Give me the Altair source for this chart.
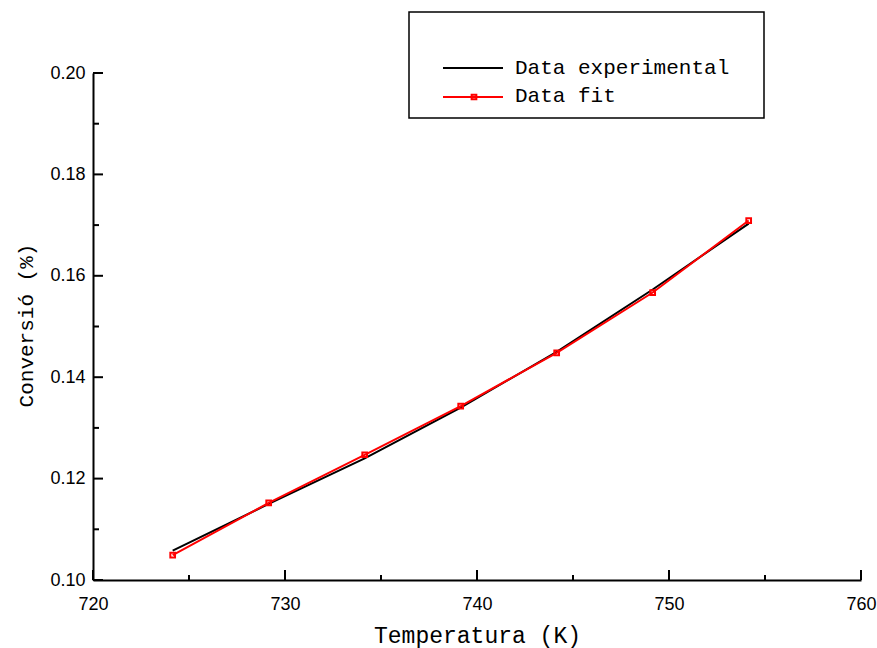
import altair as alt
import pandas as pd

# ---- data ----
temperature = [724.15, 729.15, 734.15, 739.15, 744.15, 749.15, 754.15]
conv_experimental = [0.1058, 0.1150, 0.1240, 0.1340, 0.1450, 0.1573, 0.1703]
conv_fit = [0.1049, 0.1152, 0.1247, 0.1343, 0.1448, 0.1567, 0.1709]

x_major = [720, 730, 740, 750, 760]
x_minor = [725, 735, 745, 755]
y_major = [0.10, 0.12, 0.14, 0.16, 0.18, 0.20]
y_minor = [0.11, 0.13, 0.15, 0.17, 0.19]

series_names = ["Data experimental", "Data fit"]

W, H = 768, 507
LABEL_FONT = "Liberation Sans Narrow, Arial Narrow, Liberation Sans, Arial"
MONO = "Liberation Mono, Courier New, DejaVu Sans Mono"

df_exp = pd.DataFrame({"T": temperature, "C": conv_experimental})
df_fit = pd.DataFrame({"T": temperature, "C": conv_fit})

xscale = alt.Scale(domain=[720, 760], nice=False, zero=False)
yscale = alt.Scale(domain=[0.10, 0.20], nice=False, zero=False)

x_axis = alt.Axis(
    values=x_major, format="d", title="Temperatura (K)",
    ticks=False, tickSize=0, grid=False, domainColor="black", domainWidth=2,
    labelFont=LABEL_FONT, labelFontSize=18, labelColor="black", labelPadding=15,
    labelFlush=False, labelOverlap=False,
    titleFont=MONO, titleFontSize=23, titleFontWeight="normal", titleColor="black",
    titleY=62, titleBaseline="alphabetic",
)
y_axis = alt.Axis(
    values=y_major, format=".2f", title="Conversió (%)",
    ticks=False, tickSize=0, grid=False, domainColor="black", domainWidth=2,
    labelFont=LABEL_FONT, labelFontSize=18, labelColor="black", labelPadding=8,
    labelFlush=False, labelOverlap=False,
    titleFont=MONO, titleFontSize=21, titleFontWeight="normal", titleColor="black",
    titleAngle=-90, titleX=-61, titleY=252, titleBaseline="alphabetic", titleAlign="center",
)

X = alt.X("T:Q", scale=xscale, axis=x_axis)
Y = alt.Y("C:Q", scale=yscale, axis=y_axis)

exp_line = alt.Chart(df_exp).mark_line(color="black", strokeWidth=2).encode(x=X, y=Y)
fit_line = alt.Chart(df_fit).mark_line(color="#ff0000", strokeWidth=2).encode(x=X, y=Y)
fit_pts = alt.Chart(df_fit).mark_point(
    shape="square", filled=False, color="#ff0000", strokeWidth=2, size=22, opacity=1
).encode(x=X, y=Y)

# inward ticks
def xticks(vals, length):
    return alt.Chart(pd.DataFrame({"T": vals})).mark_rule(color="black", strokeWidth=2).encode(
        x=X, y=alt.value(H), y2=alt.value(H - length),
    )

def yticks(vals, length):
    return alt.Chart(pd.DataFrame({"C": vals})).mark_rule(color="black", strokeWidth=2).encode(
        y=Y, x=alt.value(0), x2=alt.value(length),
    )

# custom legend box
one = pd.DataFrame({"a": [0]})
leg_box = alt.Chart(one).mark_rect(
    fill="white", stroke="black", strokeWidth=1.5
).encode(x=alt.value(316), x2=alt.value(671), y=alt.value(-61), y2=alt.value(45))

leg_black = alt.Chart(one).mark_rule(color="black", strokeWidth=2).encode(
    x=alt.value(350), x2=alt.value(410), y=alt.value(-5))
leg_red = alt.Chart(one).mark_rule(color="#ff0000", strokeWidth=2).encode(
    x=alt.value(350), x2=alt.value(410), y=alt.value(24))
leg_sq = alt.Chart(one).mark_point(
    shape="square", filled=False, color="#ff0000", strokeWidth=2, size=22, opacity=1
).encode(x=alt.value(381), y=alt.value(24))
leg_t1 = alt.Chart(pd.DataFrame({"s": [series_names[0]]})).mark_text(
    font=MONO, fontSize=21, align="left", baseline="alphabetic", color="black"
).encode(text="s:N", x=alt.value(422), y=alt.value(1))
leg_t2 = alt.Chart(pd.DataFrame({"s": [series_names[1]]})).mark_text(
    font=MONO, fontSize=21, align="left", baseline="alphabetic", color="black"
).encode(text="s:N", x=alt.value(422), y=alt.value(29))

chart = alt.layer(
    exp_line, fit_line, fit_pts,
    xticks(x_major, 10), xticks(x_minor, 5),
    yticks(y_major, 10), yticks(y_minor, 6),
    leg_box, leg_black, leg_red, leg_sq, leg_t1, leg_t2,
).properties(
    width=W, height=H,
    background="white",
    autosize=alt.AutoSizeParams(type="none"),
    padding={"left": 93, "top": 73, "right": 16, "bottom": 68},
).configure_view(stroke=None, strokeWidth=0)

chart.save("out.html", embed_options={"renderer": "svg", "actions": False})
